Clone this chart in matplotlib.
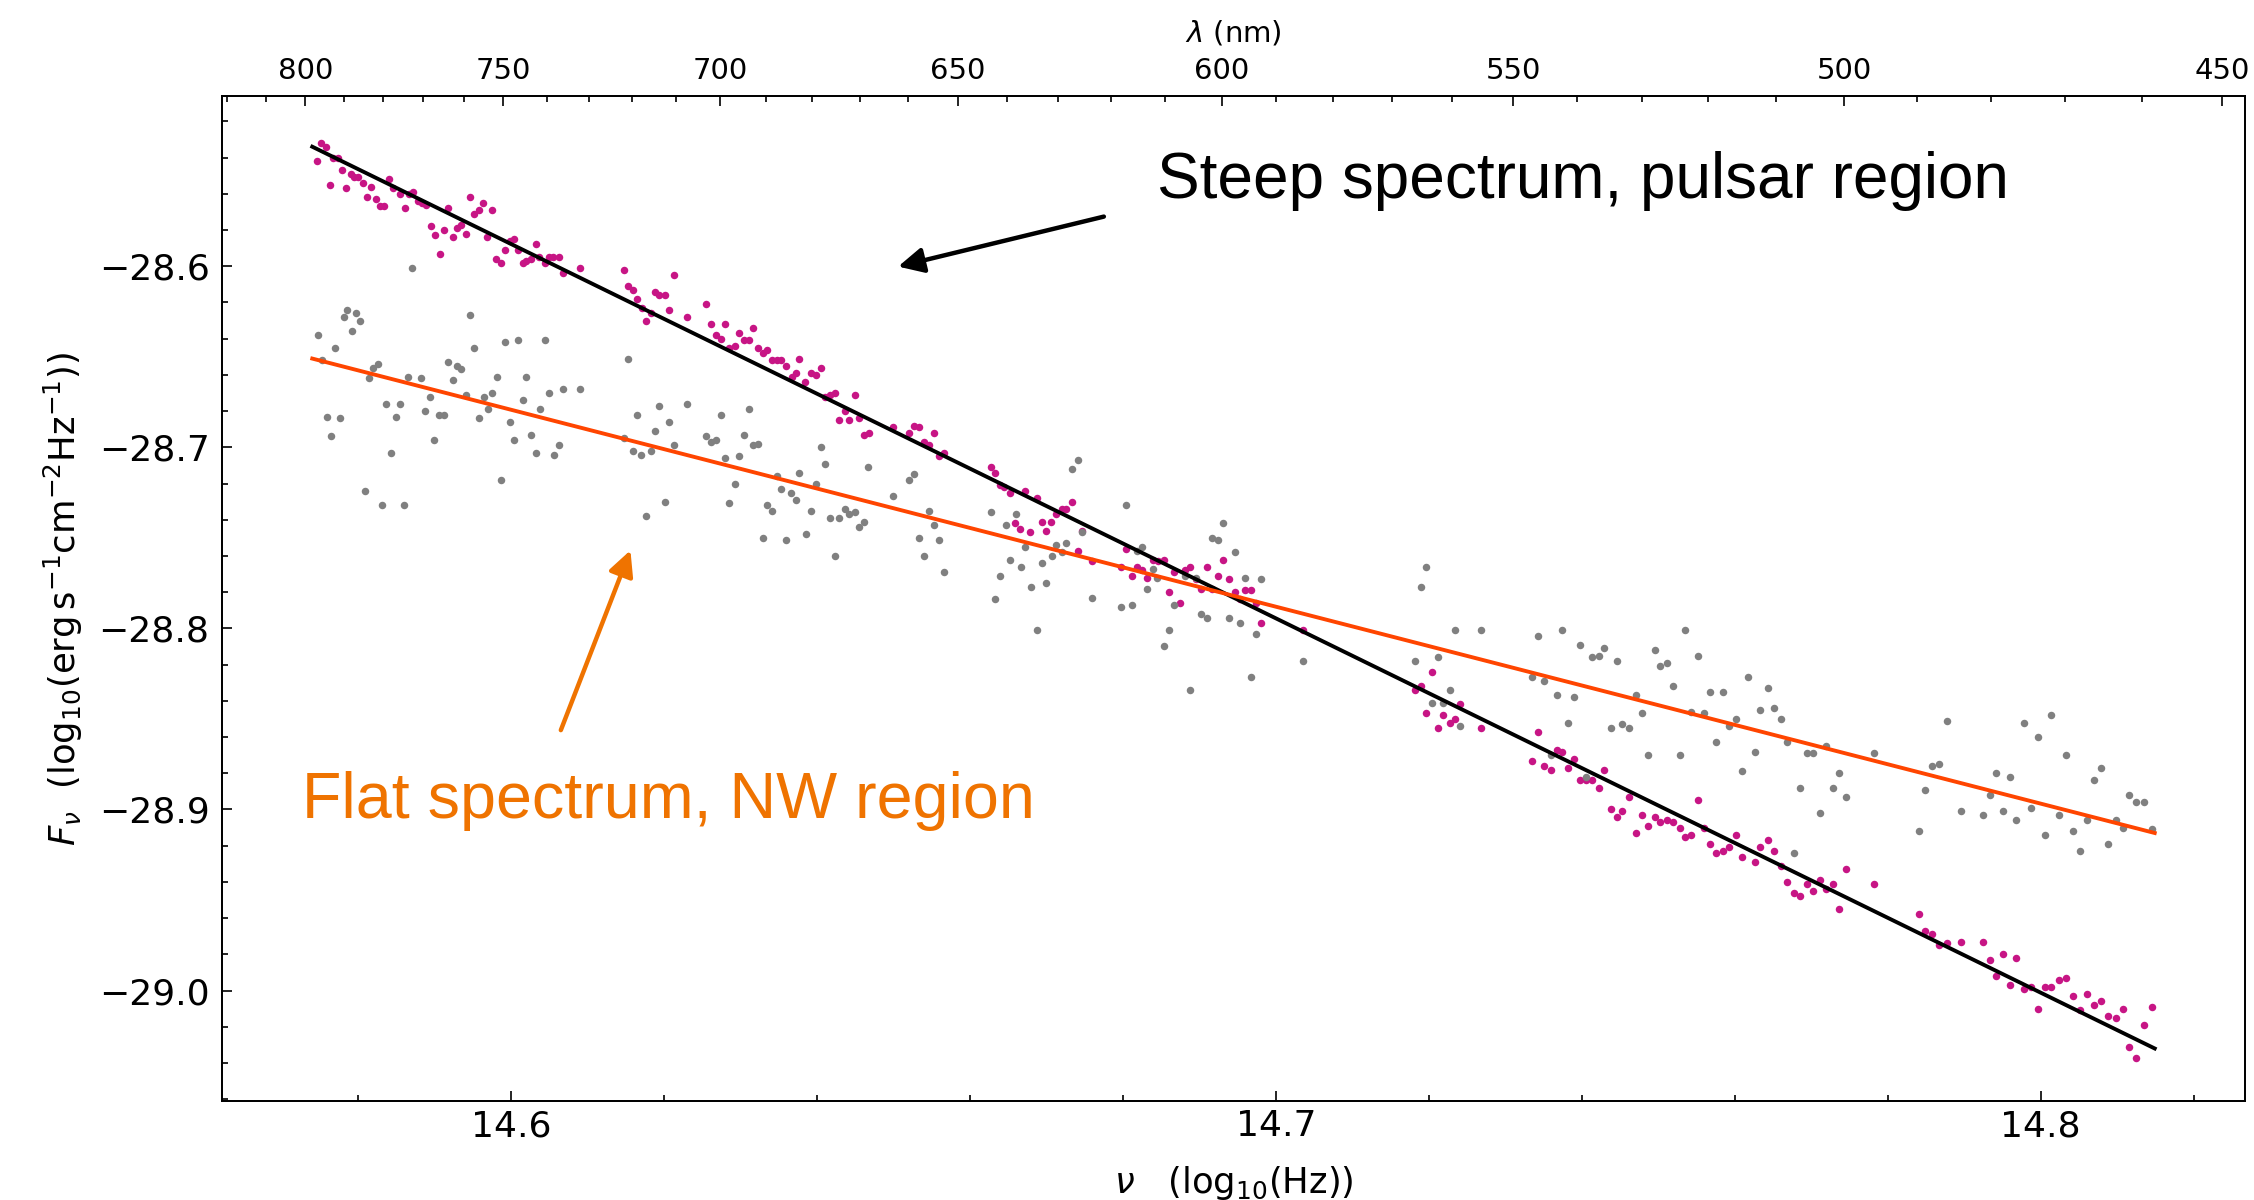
import numpy as np
import matplotlib
matplotlib.use("Agg")
import matplotlib.pyplot as plt

# --- data (log10 nu, log10 F_nu) ---
pulsar_x = [14.5746, 14.5752, 14.5758, 14.5763, 14.5767, 14.5773, 14.5779, 14.5784, 14.5790, 14.5795,
            14.5800, 14.5806, 14.5811, 14.5817, 14.5823, 14.5828, 14.5834, 14.5840, 14.5846, 14.5855,
            14.5861, 14.5867, 14.5872, 14.5878, 14.5883, 14.5889, 14.5895, 14.5901, 14.5907, 14.5912,
            14.5918, 14.5924, 14.5929, 14.5934, 14.5941, 14.5946, 14.5952, 14.5958, 14.5963, 14.5969,
            14.5975, 14.5980, 14.5987, 14.5992, 14.5998, 14.6004, 14.6009, 14.6015, 14.6020, 14.6026,
            14.6032, 14.6037, 14.6044, 14.6049, 14.6055, 14.6062, 14.6068, 14.6090, 14.6147, 14.6153,
            14.6159, 14.6165, 14.6171, 14.6177, 14.6183, 14.6188, 14.6194, 14.6201, 14.6207, 14.6213,
            14.6230, 14.6255, 14.6261, 14.6268, 14.6274, 14.6279, 14.6285, 14.6293, 14.6298, 14.6304,
            14.6311, 14.6316, 14.6323, 14.6329, 14.6335, 14.6341, 14.6347, 14.6353, 14.6360, 14.6367,
            14.6373, 14.6377,
            14.6384, 14.6392, 14.6398, 14.6405, 14.6411, 14.6417, 14.6424, 14.6429, 14.6436, 14.6442,
            14.6449, 14.6455, 14.6461, 14.6468, 14.6499, 14.6520, 14.6527, 14.6533, 14.6540, 14.6546,
            14.6553, 14.6560, 14.6566, 14.6627, 14.6633, 14.6639, 14.6645, 14.6652, 14.6659, 14.6666,
            14.6672, 14.6679, 14.6687, 14.6694, 14.6699, 14.6706, 14.6713, 14.6720, 14.6726, 14.6733,
            14.6741, 14.6747, 14.6759, 14.6797, 14.6804, 14.6812, 14.6818, 14.6825, 14.6831, 14.6839,
            14.6846, 14.6853, 14.6860, 14.6867, 14.6874, 14.6881, 14.6888, 14.6895, 14.6902, 14.6910,
            14.6917, 14.6924, 14.6931, 14.6938, 14.6946, 14.6953, 14.6960, 14.6967, 14.6974, 14.6981,
            14.7035, 14.7182, 14.7189, 14.7196, 14.7204, 14.7212, 14.7219, 14.7227, 14.7234, 14.7241,
            14.7268, 14.7335, 14.7343, 14.7351, 14.7359, 14.7367, 14.7374, 14.7382, 14.7390, 14.7397,
            14.7406, 14.7413, 14.7422, 14.7429, 14.7438, 14.7446, 14.7453, 14.7462, 14.7471, 14.7478,
            14.7486, 14.7495, 14.7502, 14.7511, 14.7519, 14.7528, 14.7535, 14.7543, 14.7552, 14.7560,
            14.7568, 14.7576, 14.7584, 14.7593, 14.7601, 14.7610, 14.7626, 14.7633,
            14.7643, 14.7651, 14.7660, 14.7668, 14.7677, 14.7685, 14.7694, 14.7702, 14.7711, 14.7719,
            14.7728, 14.7736, 14.7745, 14.7782, 14.7841, 14.7849, 14.7858, 14.7867, 14.7877, 14.7896,
            14.7924, 14.7933, 14.7941, 14.7950, 14.7960, 14.7968, 14.7978, 14.7987, 14.7996, 14.8005,
            14.8014, 14.8024, 14.8033, 14.8042, 14.8051, 14.8060, 14.8069, 14.8079, 14.8088, 14.8098,
            14.8107, 14.8116, 14.8125, 14.8135, 14.8145]
pulsar_y = [-28.542, -28.532, -28.534, -28.555, -28.540, -28.540, -28.547, -28.557, -28.549, -28.551,
            -28.551, -28.554, -28.562, -28.556, -28.563, -28.567, -28.567, -28.552, -28.557, -28.560,
            -28.568, -28.560, -28.559, -28.564, -28.565, -28.566, -28.578, -28.583, -28.593, -28.580,
            -28.568, -28.584, -28.579, -28.577, -28.582, -28.562, -28.571, -28.569, -28.565, -28.584,
            -28.569, -28.596, -28.598, -28.591, -28.586, -28.585, -28.591, -28.598, -28.597, -28.596,
            -28.588, -28.595, -28.598, -28.595, -28.595, -28.595, -28.604, -28.601, -28.602, -28.611,
            -28.613, -28.618, -28.623, -28.630, -28.626, -28.614, -28.616, -28.616, -28.624, -28.605,
            -28.628, -28.621, -28.632, -28.638, -28.640, -28.632, -28.645, -28.644, -28.637, -28.641,
            -28.641, -28.634, -28.645, -28.648, -28.646, -28.652, -28.652, -28.652, -28.655, -28.661,
            -28.659, -28.651,
            -28.664, -28.659, -28.660, -28.656, -28.672, -28.671, -28.670, -28.685, -28.680, -28.685,
            -28.671, -28.684, -28.693, -28.692, -28.689, -28.692, -28.688, -28.689, -28.697, -28.699,
            -28.692, -28.705, -28.703, -28.711, -28.714, -28.721, -28.722, -28.725, -28.742, -28.745,
            -28.724, -28.747, -28.728, -28.741, -28.746, -28.741, -28.737, -28.734, -28.734, -28.730,
            -28.757, -28.746, -28.763, -28.766, -28.756, -28.771, -28.766, -28.768, -28.772, -28.762,
            -28.763, -28.762, -28.780, -28.769, -28.786, -28.768, -28.766, -28.773, -28.778, -28.766,
            -28.778, -28.771, -28.762, -28.773, -28.780, -28.784, -28.779, -28.779, -28.786, -28.797,
            -28.801, -28.834, -28.832, -28.847, -28.824, -28.855, -28.848, -28.852, -28.850, -28.842,
            -28.855, -28.873, -28.857, -28.876, -28.878, -28.867, -28.868, -28.877, -28.872, -28.884,
            -28.884, -28.884, -28.888, -28.878, -28.900, -28.904, -28.901, -28.893, -28.913, -28.903,
            -28.909, -28.904, -28.907, -28.906, -28.907, -28.910, -28.915, -28.914, -28.895, -28.910,
            -28.919, -28.924, -28.923, -28.921, -28.914, -28.926, -28.929, -28.921,
            -28.917, -28.923, -28.931, -28.940, -28.946, -28.948, -28.941, -28.945, -28.939, -28.944,
            -28.941, -28.955, -28.933, -28.941, -28.958, -28.967, -28.969, -28.975, -28.974, -28.973,
            -28.973, -28.983, -28.992, -28.980, -28.997, -28.982, -28.999, -28.998, -29.010, -28.998,
            -28.998, -28.994, -28.993, -29.003, -29.011, -29.002, -29.008, -29.006, -29.014, -29.015,
            -29.010, -29.031, -29.037, -29.019, -29.009]

nw_x = [14.5747, 14.5753, 14.5759, 14.5764, 14.5770, 14.5776, 14.5782, 14.5786, 14.5792, 14.5797,
        14.5803, 14.5809, 14.5814, 14.5820, 14.5826, 14.5831, 14.5837, 14.5843, 14.5850, 14.5855,
        14.5860, 14.5865, 14.5871, 14.5882, 14.5888, 14.5894, 14.5899, 14.5906, 14.5912, 14.5918,
        14.5924, 14.5929, 14.5935, 14.5941, 14.5946, 14.5952, 14.5958, 14.5964, 14.5970, 14.5975,
        14.5981, 14.5987, 14.5992, 14.5998, 14.6004, 14.6009, 14.6015, 14.6020, 14.6026, 14.6032,
        14.6038, 14.6044, 14.6049, 14.6056, 14.6062, 14.6068, 14.6090, 14.6147, 14.6153, 14.6159,
        14.6165, 14.6170, 14.6177, 14.6183, 14.6188, 14.6194, 14.6201, 14.6207, 14.6213, 14.6230,
        14.6255, 14.6261, 14.6268, 14.6274, 14.6279, 14.6285, 14.6293, 14.6298, 14.6304, 14.6311,
        14.6316, 14.6323, 14.6329, 14.6335, 14.6341, 14.6348, 14.6353, 14.6360, 14.6366, 14.6373,
        14.6377,
        14.6385, 14.6392, 14.6398, 14.6405, 14.6411, 14.6417, 14.6424, 14.6429, 14.6436, 14.6442,
        14.6449, 14.6455, 14.6462, 14.6467, 14.6499, 14.6520, 14.6527, 14.6533, 14.6540, 14.6546,
        14.6553, 14.6560, 14.6566, 14.6627, 14.6633, 14.6639, 14.6647, 14.6652, 14.6660, 14.6667,
        14.6672, 14.6680, 14.6687, 14.6694, 14.6699, 14.6707, 14.6713, 14.6720, 14.6726, 14.6733,
        14.6741, 14.6747, 14.6759, 14.6797, 14.6804, 14.6812, 14.6818, 14.6825, 14.6831, 14.6839,
        14.6845, 14.6853, 14.6860, 14.6867, 14.6881, 14.6888, 14.6895, 14.6902, 14.6910, 14.6917,
        14.6924, 14.6931, 14.6938, 14.6946, 14.6953, 14.6960, 14.6967, 14.6974, 14.6981,
        14.7035, 14.7182, 14.7189, 14.7196, 14.7204, 14.7212, 14.7219, 14.7227, 14.7234, 14.7241,
        14.7268, 14.7335, 14.7343, 14.7351, 14.7359, 14.7367, 14.7374, 14.7382, 14.7390, 14.7398,
        14.7406, 14.7413, 14.7422, 14.7429, 14.7438, 14.7446, 14.7453, 14.7462, 14.7471, 14.7478,
        14.7486, 14.7495, 14.7502, 14.7511, 14.7519, 14.7528, 14.7535, 14.7543, 14.7552, 14.7560,
        14.7568, 14.7576, 14.7584, 14.7593, 14.7601, 14.7610, 14.7617, 14.7626, 14.7633,
        14.7643, 14.7651, 14.7660, 14.7668, 14.7677, 14.7685, 14.7694, 14.7702, 14.7711, 14.7719,
        14.7728, 14.7736, 14.7745, 14.7782, 14.7841, 14.7849, 14.7858, 14.7867, 14.7877, 14.7896,
        14.7924, 14.7933, 14.7941, 14.7950, 14.7960, 14.7968, 14.7978, 14.7987, 14.7996, 14.8005,
        14.8014, 14.8024, 14.8033, 14.8042, 14.8051, 14.8060, 14.8069, 14.8079, 14.8088, 14.8098,
        14.8107, 14.8116, 14.8125, 14.8135, 14.8145]
nw_y = [-28.638, -28.652, -28.683, -28.694, -28.645, -28.684, -28.628, -28.624, -28.636, -28.626,
        -28.630, -28.724, -28.662, -28.656, -28.654, -28.732, -28.676, -28.703, -28.683, -28.676,
        -28.732, -28.661, -28.601, -28.662, -28.680, -28.672, -28.696, -28.682, -28.682, -28.653,
        -28.663, -28.655, -28.657, -28.671, -28.627, -28.645, -28.684, -28.672, -28.679, -28.670,
        -28.661, -28.718, -28.642, -28.686, -28.696, -28.641, -28.674, -28.661, -28.693, -28.703,
        -28.679, -28.641, -28.670, -28.704, -28.699, -28.668, -28.668, -28.695, -28.651, -28.702,
        -28.682, -28.704, -28.738, -28.702, -28.691, -28.677, -28.730, -28.686, -28.699, -28.676,
        -28.694, -28.697, -28.696, -28.682, -28.706, -28.731, -28.720, -28.705, -28.693, -28.679,
        -28.699, -28.698, -28.750, -28.732, -28.735, -28.716, -28.723, -28.751, -28.725, -28.729,
        -28.714,
        -28.748, -28.735, -28.720, -28.700, -28.709, -28.739, -28.760, -28.739, -28.734, -28.737,
        -28.736, -28.744, -28.741, -28.711, -28.727, -28.718, -28.715, -28.750, -28.760, -28.735,
        -28.743, -28.751, -28.769, -28.736, -28.784, -28.771, -28.743, -28.762, -28.737, -28.766,
        -28.755, -28.777, -28.801, -28.764, -28.775, -28.760, -28.754, -28.758, -28.753, -28.712,
        -28.707, -28.747, -28.783, -28.788, -28.732, -28.787, -28.757, -28.755, -28.778, -28.767,
        -28.772, -28.810, -28.801, -28.787, -28.771, -28.834, -28.772, -28.792, -28.794, -28.750,
        -28.751, -28.742, -28.794, -28.758, -28.797, -28.772, -28.827, -28.803, -28.773,
        -28.818, -28.818, -28.777, -28.766, -28.841, -28.816, -28.841, -28.834, -28.801, -28.854,
        -28.801, -28.827, -28.804, -28.829, -28.870, -28.837, -28.801, -28.852, -28.838, -28.809,
        -28.882, -28.816, -28.815, -28.811, -28.855, -28.818, -28.853, -28.855, -28.837, -28.847,
        -28.870, -28.812, -28.821, -28.819, -28.832, -28.870, -28.801, -28.846, -28.815, -28.847,
        -28.835, -28.863, -28.835, -28.854, -28.850, -28.879, -28.827, -28.868, -28.845,
        -28.833, -28.844, -28.850, -28.863, -28.924, -28.888, -28.869, -28.869, -28.902, -28.865,
        -28.888, -28.880, -28.893, -28.869, -28.912, -28.889, -28.876, -28.875, -28.851, -28.901,
        -28.903, -28.892, -28.880, -28.901, -28.882, -28.906, -28.852, -28.899, -28.860, -28.914,
        -28.848, -28.903, -28.870, -28.912, -28.923, -28.906, -28.884, -28.877, -28.919, -28.906,
        -28.910, -28.892, -28.896, -28.896, -28.911]

# straight-line fits, drawn between their end points
fit_x = [14.5740, 14.8149]
steep_fit = [-28.534, -29.032]
flat_fit = [-28.651, -28.913]

# wavelength ticks on the top axis, and where they sit in log10(nu)
lam_major = [800, 750, 700, 650, 600, 550, 500, 450]
lam_major_pos = [14.5731, 14.5990, 14.6273, 14.6584, 14.6929, 14.7310, 14.7743, 14.8237]

PINK = "#c71585"
GREY = "#808080"
ORANGE_LINE = "#ff4500"
ORANGE_TEXT = "#ef7300"

fig = plt.figure(figsize=(22.54, 12.0), dpi=100)
ax = fig.add_axes([0.0985, 0.0825, 0.8975, 0.8375])

ax.plot(pulsar_x, pulsar_y, "o", color=PINK, ms=5.4, mew=0, zorder=2)
ax.plot(nw_x, nw_y, "o", color=GREY, ms=5.4, mew=0, zorder=2)
ax.plot(fit_x, steep_fit, color="black", lw=2.8, zorder=3)
ax.plot(fit_x, flat_fit, color=ORANGE_LINE, lw=2.8, zorder=3)

ax.set_xlim(14.5622, 14.8267)
ax.set_ylim(-29.061, -28.506)
ax.set_xticks([14.6, 14.7, 14.8])
ax.set_xticks(np.arange(14.58, 14.83, 0.02), minor=True)
ax.set_yticks([-29.0, -28.9, -28.8, -28.7, -28.6])
ax.set_yticks(np.arange(-29.06, -28.50, 0.02), minor=True)
ax.set_xticklabels(["14.6", "14.7", "14.8"])
ax.set_yticklabels(["\u221229.0", "\u221228.9", "\u221228.8", "\u221228.7", "\u221228.6"])
ax.tick_params(which="both", direction="in", top=False, right=False, width=1.2)
ax.tick_params(which="major", length=7, labelsize=26)
ax.tick_params(which="minor", length=4)
ax.tick_params(axis="x", which="major", pad=6)
ax.tick_params(axis="y", which="major", pad=9)
for s in ax.spines.values():
    s.set_linewidth(1.3)

ax.set_xlabel(r"$\nu$   (log$_{10}$(Hz))", fontsize=25.5, va="center")
ax.xaxis.set_label_coords(0.5, -0.0816)
ax.set_ylabel(r"$F_\nu$  (log$_{10}$(erg$\,$s$^{-1}$cm$^{-2}$Hz$^{-1}$))", fontsize=25.5, va="center")
ax.yaxis.set_label_coords(-0.0786, 0.5)

# top wavelength axis
ax2 = ax.twiny()
ax2.set_xlim(ax.get_xlim())
ax2.set_xticks(lam_major_pos)
ax2.set_xticklabels([str(v) for v in lam_major])
coef = np.polyfit(lam_major, lam_major_pos, 3)
lam_minor = [v for v in range(460, 830, 10) if v not in lam_major]
ax2.set_xticks(np.polyval(coef, lam_minor), minor=True)
ax2.tick_params(which="both", direction="in", width=1.2)
ax2.tick_params(which="major", length=7.5, labelsize=21, pad=8)
ax2.tick_params(which="minor", length=4.5)
ax2.set_xlabel(r"$\lambda$ (nm)", fontsize=21, va="center")
ax2.xaxis.set_label_coords(0.5, 1.0627)
for s in ax2.spines.values():
    s.set_linewidth(1.3)

# annotations
ax.annotate("", xy=(14.6506, -28.6002), xytext=(14.6775, -28.5726),
            arrowprops=dict(arrowstyle="-|>", color="black", lw=3.2, mutation_scale=38,
                            shrinkA=0, shrinkB=0), zorder=5)
ax.text(14.6844, -28.5625, "Steep spectrum, pulsar region", fontsize=46,
        family="Liberation Sans", color="black", va="baseline", ha="left")

ax.annotate("", xy=(14.6156, -28.7569), xytext=(14.6065, -28.8562),
            arrowprops=dict(arrowstyle="-|>", color=ORANGE_TEXT, lw=3.2, mutation_scale=38,
                            shrinkA=0, shrinkB=0), zorder=5)
ax.text(14.5727, -28.9047, "Flat spectrum, NW region", fontsize=46.5,
        family="Liberation Sans", color=ORANGE_TEXT, va="baseline", ha="left")

fig.savefig("out.png", dpi=100)
